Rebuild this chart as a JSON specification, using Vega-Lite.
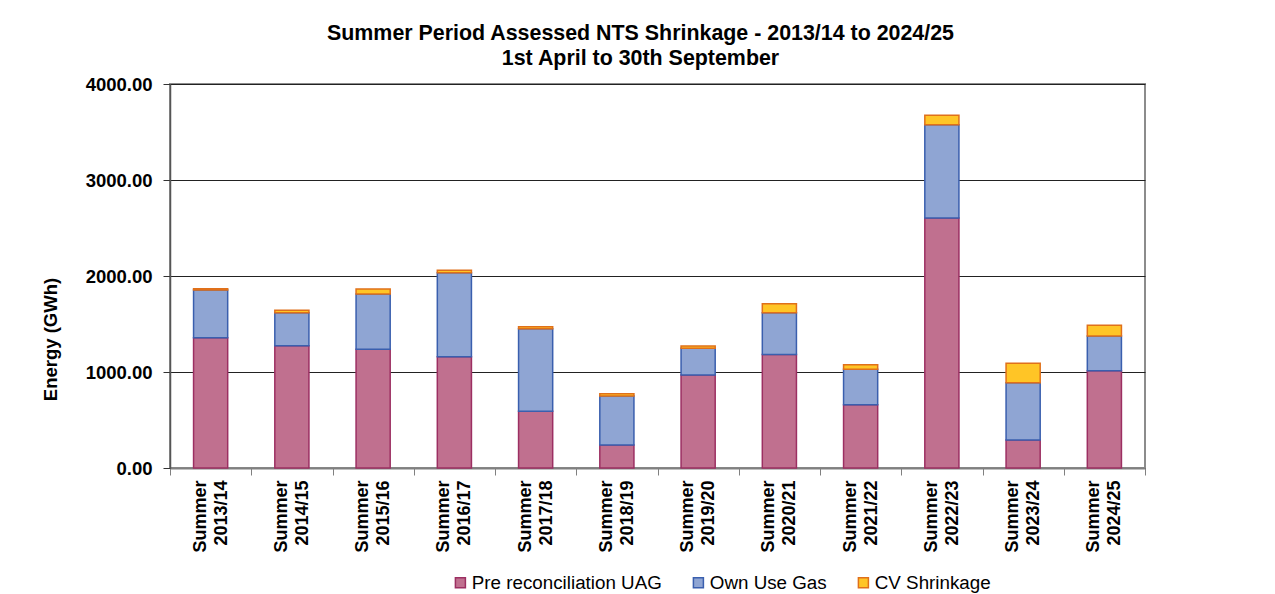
{
  "$schema": "https://vega.github.io/schema/vega-lite/v6.json",
  "width": 975,
  "height": 384,
  "autosize": "none",
  "padding": {"left": 170, "top": 84, "right": 130, "bottom": 126},
  "background": "white",
  "title": {
    "text": ["Summer Period Assessed NTS Shrinkage - 2013/14 to 2024/25", "1st April to 30th September"],
    "anchor": "middle",
    "dx": -17,
    "fontSize": 21.4,
    "fontWeight": "bold",
    "font": "Liberation Sans",
    "color": "#000000",
    "lineHeight": 25,
    "offset": 6
  },
  "data": {
    "values": [
      {"period": "Summer 2013/14", "series": "Pre reconciliation UAG", "value": 1357},
      {"period": "Summer 2013/14", "series": "Own Use Gas", "value": 497},
      {"period": "Summer 2013/14", "series": "CV Shrinkage", "value": 14},
      {"period": "Summer 2014/15", "series": "Pre reconciliation UAG", "value": 1274},
      {"period": "Summer 2014/15", "series": "Own Use Gas", "value": 344},
      {"period": "Summer 2014/15", "series": "CV Shrinkage", "value": 24},
      {"period": "Summer 2015/16", "series": "Pre reconciliation UAG", "value": 1236},
      {"period": "Summer 2015/16", "series": "Own Use Gas", "value": 576},
      {"period": "Summer 2015/16", "series": "CV Shrinkage", "value": 53},
      {"period": "Summer 2016/17", "series": "Pre reconciliation UAG", "value": 1160},
      {"period": "Summer 2016/17", "series": "Own Use Gas", "value": 875},
      {"period": "Summer 2016/17", "series": "CV Shrinkage", "value": 24},
      {"period": "Summer 2017/18", "series": "Pre reconciliation UAG", "value": 590},
      {"period": "Summer 2017/18", "series": "Own Use Gas", "value": 861},
      {"period": "Summer 2017/18", "series": "CV Shrinkage", "value": 21},
      {"period": "Summer 2018/19", "series": "Pre reconciliation UAG", "value": 240},
      {"period": "Summer 2018/19", "series": "Own Use Gas", "value": 510},
      {"period": "Summer 2018/19", "series": "CV Shrinkage", "value": 24},
      {"period": "Summer 2019/20", "series": "Pre reconciliation UAG", "value": 969},
      {"period": "Summer 2019/20", "series": "Own Use Gas", "value": 278},
      {"period": "Summer 2019/20", "series": "CV Shrinkage", "value": 24},
      {"period": "Summer 2020/21", "series": "Pre reconciliation UAG", "value": 1181},
      {"period": "Summer 2020/21", "series": "Own Use Gas", "value": 437},
      {"period": "Summer 2020/21", "series": "CV Shrinkage", "value": 94},
      {"period": "Summer 2021/22", "series": "Pre reconciliation UAG", "value": 660},
      {"period": "Summer 2021/22", "series": "Own Use Gas", "value": 368},
      {"period": "Summer 2021/22", "series": "CV Shrinkage", "value": 48},
      {"period": "Summer 2022/23", "series": "Pre reconciliation UAG", "value": 2604},
      {"period": "Summer 2022/23", "series": "Own Use Gas", "value": 972},
      {"period": "Summer 2022/23", "series": "CV Shrinkage", "value": 98},
      {"period": "Summer 2023/24", "series": "Pre reconciliation UAG", "value": 292},
      {"period": "Summer 2023/24", "series": "Own Use Gas", "value": 597},
      {"period": "Summer 2023/24", "series": "CV Shrinkage", "value": 201},
      {"period": "Summer 2024/25", "series": "Pre reconciliation UAG", "value": 1014},
      {"period": "Summer 2024/25", "series": "Own Use Gas", "value": 361},
      {"period": "Summer 2024/25", "series": "CV Shrinkage", "value": 111}
    ]
  },
  "mark": {"type": "bar", "strokeWidth": 1.5, "width": {"band": 0.42}},
  "encoding": {
    "x": {
      "field": "period",
      "type": "nominal",
      "sort": null,
      "scale": {"paddingInner": 0, "paddingOuter": 0},
      "axis": {
        "title": null,
        "labelAngle": -90,
        "labelAlign": "right",
        "labelBaseline": "middle",
        "labelExpr": "split(datum.label, ' ')",
        "labelLineHeight": 21,
        "labelFontSize": 18,
        "labelFontWeight": "bold",
        "labelColor": "#000000",
        "labelPadding": 5,
        "labelOffset": -10.5,
        "tickBand": "extent",
        "tickSize": 7,
        "tickColor": "#808080",
        "tickWidth": 1,
        "domainColor": "#808080",
        "domainWidth": 2,
        "grid": false
      }
    },
    "y": {
      "field": "value",
      "type": "quantitative",
      "aggregate": "sum",
      "stack": "zero",
      "scale": {"domain": [0, 4000], "nice": false},
      "axis": {
        "title": "Energy (GWh)",
        "titleFontSize": 18.5,
        "titleFontWeight": "bold",
        "titleColor": "#000000",
        "titleAngle": -90,
        "titleX": -120,
        "titleY": 255,
        "titleAlign": "center",
        "titleBaseline": "middle",
        "values": [0, 1000, 2000, 3000, 4000],
        "format": ".2f",
        "labelFontSize": 18.5,
        "labelFontWeight": "bold",
        "labelColor": "#000000",
        "labelPadding": 11,
        "tickSize": 7,
        "tickColor": "#333333",
        "domainColor": "#555555",
        "domainWidth": 1.5,
        "grid": true,
        "gridColor": "#222222",
        "gridWidth": 1
      }
    },
    "fill": {
      "field": "series",
      "type": "nominal",
      "sort": ["Pre reconciliation UAG", "Own Use Gas", "CV Shrinkage"],
      "scale": {
        "domain": ["Pre reconciliation UAG", "Own Use Gas", "CV Shrinkage"],
        "range": ["#c0708f", "#8fa5d3", "#ffc526"]
      },
      "legend": {"title": null}
    },
    "stroke": {
      "field": "series",
      "type": "nominal",
      "sort": ["Pre reconciliation UAG", "Own Use Gas", "CV Shrinkage"],
      "scale": {
        "domain": ["Pre reconciliation UAG", "Own Use Gas", "CV Shrinkage"],
        "range": ["#9c2f62", "#3a5fae", "#e0701a"]
      },
      "legend": {"title": null}
    },
    "order": {"field": "series", "sort": "descending"}
  },
  "config": {
    "font": "Liberation Sans",
    "view": {"stroke": "#8c8c8c", "strokeWidth": 2},
    "legend": {
      "orient": "none",
      "legendX": 281,
      "legendY": 489,
      "direction": "horizontal",
      "symbolType": "square",
      "symbolSize": 100,
      "symbolStrokeWidth": 1.5,
      "labelFontSize": 18.8,
      "labelLimit": 0,
      "labelColor": "#000000",
      "labelOffset": 2,
      "columnPadding": 27,
      "padding": 0
    }
  }
}
